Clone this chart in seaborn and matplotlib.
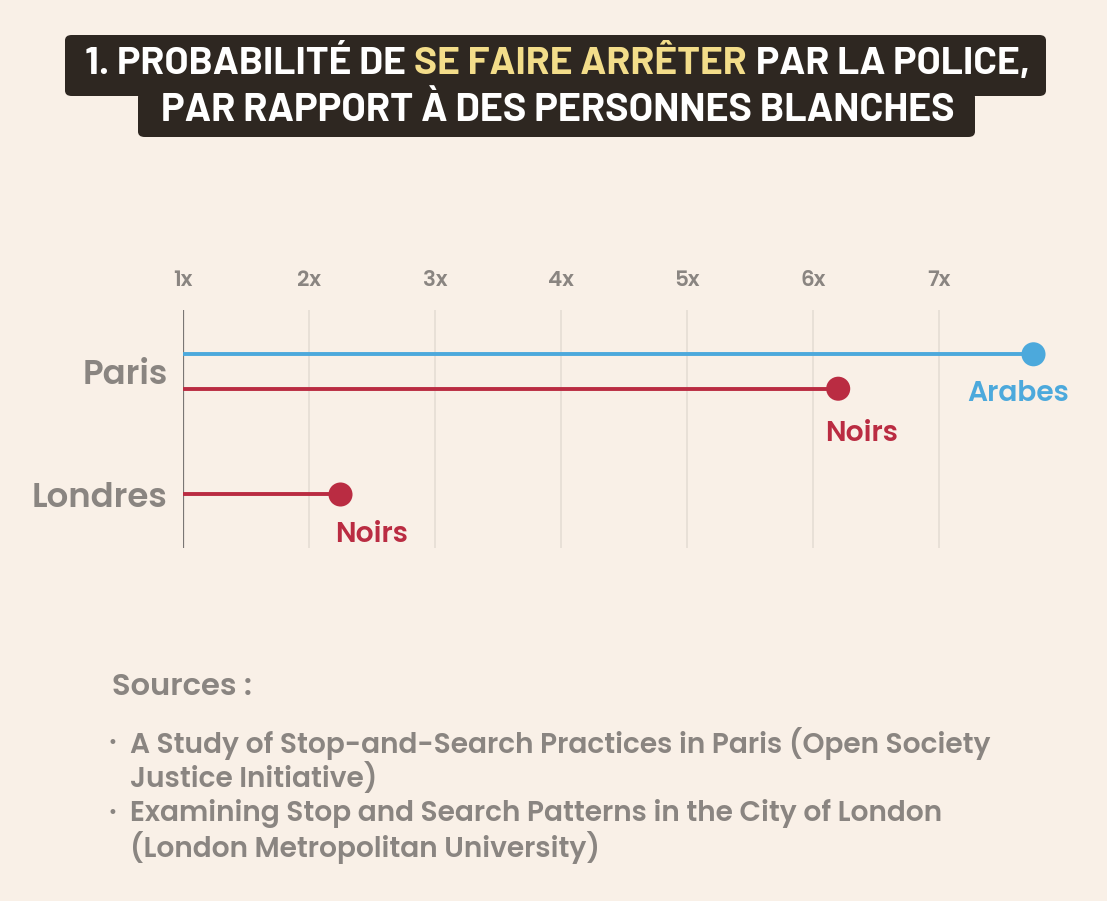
import numpy as np
import pandas as pd
import seaborn as sns
import matplotlib.pyplot as plt
from matplotlib.patches import FancyBboxPatch

# data
cities = ["Paris", "Londres"]
groups = ["Arabes", "Noirs", "Noirs"]
group_cities = ["Paris", "Paris", "Londres"]
ratios = [7.75, 6.2, 2.25]
tick_values = [1, 2, 3, 4, 5, 6, 7]
tick_labels = ["1x", "2x", "3x", "4x", "5x", "6x", "7x"]

title_line1 = [("1. PROBABILITÉ DE", "white"), ("SE FAIRE ARRÊTER", "#F3DD8A"), ("PAR LA POLICE,", "white")]
title_line2 = [("PAR RAPPORT À DES PERSONNES BLANCHES", "white")]
sources_head = "Sources :"
sources = [
    ["A Study of Stop-and-Search Practices in Paris (Open Society", "Justice Initiative)"],
    ["Examining Stop and Search Patterns in the City of London", "(London Metropolitan University)"],
]

BG = "#F9F0E7"
GRAY = "#8A8581"
BLUE = "#4CA9DC"
RED = "#BA2C42"
DARK = "#2E2721"
palette = {"Arabes": BLUE, "Noirs": RED}

title_font = ["Barlow", "Barlow Semi Condensed", "DejaVu Sans"]
body_font = ["Poppins", "Open Sans", "DejaVu Sans"]

sns.set_theme(style="white")
plt.rcParams["font.family"] = body_font

df = pd.DataFrame({"city": group_cities, "group": groups, "ratio": ratios})
offsets = {("Paris", "Arabes"): -0.14, ("Paris", "Noirs"): 0.14, ("Londres", "Noirs"): 0.0}
df["y"] = [cities.index(c) + offsets[(c, g)] for c, g in zip(df.city, df.group)]

W, H = 1107, 901
fig = plt.figure(figsize=(W / 100, H / 100), dpi=100, facecolor=BG)

# x: 1x at px 183, 126 px per unit; y: axis line from px 310 to 548
ax = fig.add_axes([183 / W, 1 - 548 / H, 882 / W, 238 / H])
ax.set_facecolor(BG)
ax.set_xlim(1, 8)
ax.set_ylim(1.435, -0.5)

for v in tick_values[1:]:
    ax.axvline(v, color="#E4DCD3", lw=1.1, zorder=0)
ax.axvline(1, color="#7A7674", lw=1.6, zorder=1)

ax.hlines(df["y"], 1, df["ratio"], colors=[palette[g] for g in df.group], lw=2.8, zorder=2)
sns.scatterplot(data=df, x="ratio", y="y", hue="group", palette=palette, s=300,
                edgecolor="none", legend=False, ax=ax, zorder=3, clip_on=False)

ax.xaxis.tick_top()
ax.set_xticks(tick_values)
ax.set_xticklabels(tick_labels, color=GRAY, fontsize=15.5, fontweight="semibold")
ax.set_yticks(range(len(cities)))
ax.set_yticklabels(cities, color=GRAY, fontsize=20, fontweight="semibold")
ax.tick_params(axis="x", length=0, pad=13)
ax.tick_params(axis="y", length=0, pad=11)
ax.set_xlabel("")
ax.set_ylabel("")
for s in ax.spines.values():
    s.set_visible(False)

# title banner
fig.patches.append(FancyBboxPatch((65 / W, 1 - 96 / H), 981 / W, 61 / H,
                                  boxstyle="round,pad=0,rounding_size=0.006",
                                  transform=fig.transFigure, fc=DARK, ec="none"))
fig.patches.append(FancyBboxPatch((138 / W, 1 - 137 / H), 837 / W, 45 / H,
                                  boxstyle="round,pad=0,rounding_size=0.006",
                                  transform=fig.transFigure, fc=DARK, ec="none"))

fig.canvas.draw()
renderer = fig.canvas.get_renderer()


def fit_size(t, width_px):
    w = t.get_window_extent(renderer).width
    t.set_fontsize(t.get_fontsize() * width_px / w)
    return t.get_fontsize()


# value labels under the dots (offsets in pixels)
label_offsets = {("Paris", "Arabes"): (-15, -40), ("Paris", "Noirs"): (23, -45), ("Londres", "Noirs"): (31, -41)}
labels = []
for _, r in df.iterrows():
    dx, dy = label_offsets[(r.city, r.group)]
    labels.append(ax.annotate(r.group, (r.ratio, r.y), xytext=(dx * 0.72, dy * 0.72),
                              textcoords="offset points", ha="center", va="center",
                              color=palette[r.group], fontsize=17, fontweight="semibold",
                              annotation_clip=False))
lab_size = fit_size(labels[0], 102)
for t in labels[1:]:
    t.set_fontsize(lab_size)

city_size = fit_size(ax.get_yticklabels()[1], 135)
ax.set_yticklabels(cities, color=GRAY, fontsize=city_size, fontweight="semibold")


def draw_title_line(parts, y_px, x0_px, x1_px):
    size = 30
    pieces = [fig.text(0, 1 - y_px / H, s, color=c, fontsize=size, fontweight="bold",
                       family=title_font, va="center_baseline", ha="left") for s, c in parts]
    gap = size * 0.3
    widths = [t.get_window_extent(renderer).width for t in pieces]
    scale = (x1_px - x0_px) / (sum(widths) + gap * (len(pieces) - 1))
    for t in pieces:
        t.set_fontsize(size * scale)
    widths = [t.get_window_extent(renderer).width for t in pieces]
    gap = gap * scale
    total = sum(widths) + gap * (len(pieces) - 1)
    x = x0_px + ((x1_px - x0_px) - total) / 2
    for t, w in zip(pieces, widths):
        t.set_x(x / W)
        x += w + gap


draw_title_line(title_line1, 61, 85, 1030)
draw_title_line(title_line2, 107, 160, 955)

# sources
head = fig.text(112 / W, 1 - 688 / H, sources_head, color=GRAY, fontsize=18, fontweight="semibold", va="center")
fit_size(head, 140)
y = 743
src_texts = []
for src in sources:
    fig.text(107 / W, 1 - y / H, "•", color=GRAY, fontsize=12, family="DejaVu Sans", va="center")
    for line in src:
        src_texts.append(fig.text(130 / W, 1 - y / H, line, color=GRAY, fontsize=16,
                                  fontweight="semibold", va="center"))
        y += 35
src_size = fit_size(src_texts[0], 860)
for t in src_texts[1:]:
    t.set_fontsize(src_size)

fig.savefig("out.png", dpi=100, facecolor=BG)
